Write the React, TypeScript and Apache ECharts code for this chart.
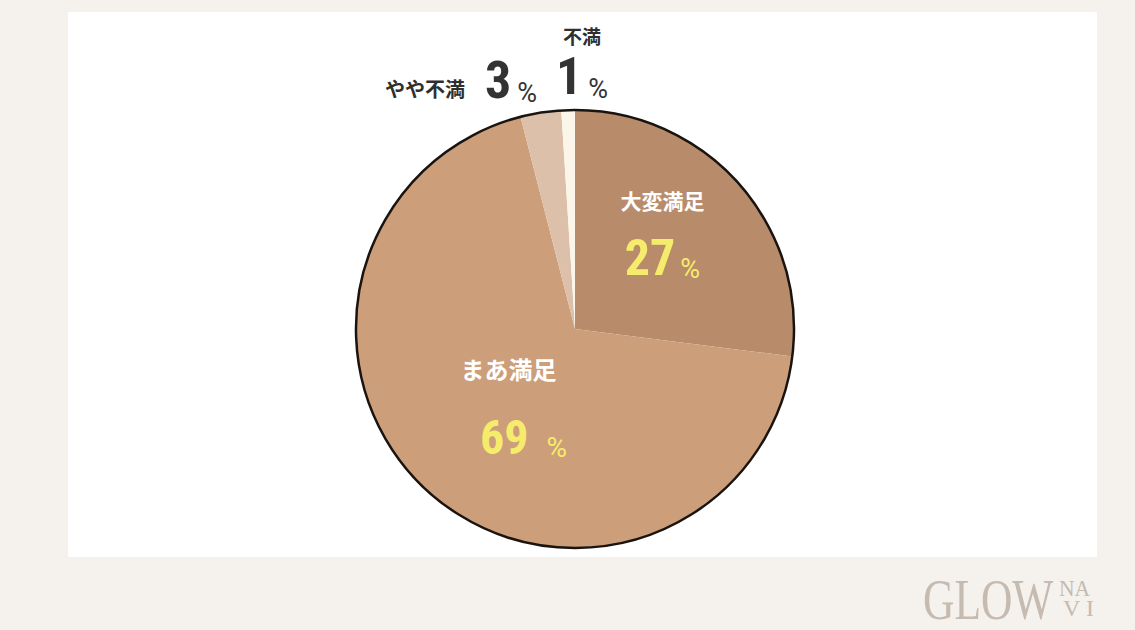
import React, { useEffect, useRef } from "react";
import * as echarts from "echarts";

const categories = ["大変満足", "まあ満足", "やや不満", "不満"];
const values = [27, 69, 3, 1];
const sliceColors = ["#b88c6b", "#cc9e7a", "#dcc0a9", "#fcf5e9"];

const JP = '"Noto Sans CJK JP", "Noto Sans", sans-serif';
const NUM = '"Roboto Condensed", "Liberation Sans Narrow", "DejaVu Sans Condensed", Roboto, sans-serif';
const PCT = 'Roboto, "Noto Sans", sans-serif';

export default function App() {
  const ref = useRef<HTMLDivElement>(null);
  useEffect(() => {
    document.body.style.margin = "0";
    const chart = echarts.init(ref.current!, undefined, { renderer: "svg" });
    const yellow = "#f6ec6c";
    const insideRich = {
      name: { color: "#ffffff", fontFamily: JP, fontWeight: "bold", fontSize: 21, lineHeight: 66 },
      name2: { color: "#ffffff", fontFamily: JP, fontWeight: "bold", fontSize: 24, lineHeight: 87 },
      num: { color: yellow, fontFamily: NUM, fontWeight: "bold", fontSize: 50, lineHeight: 50, verticalAlign: "bottom" },
      num2: { color: yellow, fontFamily: NUM, fontWeight: "bold", fontSize: 48, lineHeight: 50, verticalAlign: "bottom", padding: [0, 0, 0, 30] },
      pct: { color: yellow, fontFamily: PCT, fontSize: 27, lineHeight: 30, verticalAlign: "bottom", padding: [0, 0, 0, 5] },
      pct2: { color: yellow, fontFamily: PCT, fontSize: 28, lineHeight: 30, verticalAlign: "bottom", padding: [0, 0, 0, 18] },
    };
    const outsideRich = {
      name: { color: "#2f2f2f", fontFamily: JP, fontWeight: "bold", fontSize: 20, lineHeight: 40, verticalAlign: "bottom", padding: [0, 20, 8, 0] },
      top: { color: "#2f2f2f", fontFamily: JP, fontWeight: "bold", fontSize: 19, lineHeight: 22, padding: [0, 0, 12, 0] },
      num: { color: "#333333", fontFamily: NUM, fontWeight: "bold", fontSize: 52, lineHeight: 50, verticalAlign: "bottom" },
      pct: { color: "#333333", fontFamily: PCT, fontSize: 27, lineHeight: 30, verticalAlign: "bottom", padding: [0, 0, 0, 6] },
    };
    const data = categories.map((name, i) => {
      const inside = i < 2;
      let formatter = "";
      if (i === 0) formatter = `{name|${name}}\n{num|${values[i]}}{pct|%}`;
      else if (i === 1) formatter = `{name2|${name}}\n{num2|${values[i]}}{pct2|%}`;
      else if (i === 2) formatter = `{name|${name}}{num|${values[i]}}{pct|%}`;
      else formatter = `{top|${name}}\n{num|${values[i]}}{pct|%}`;
      return {
        name,
        value: values[i],
        itemStyle: { color: sliceColors[i] },
        label: {
          show: true,
          position: inside ? "inside" : "outside",
          formatter,
          rich: inside ? insideRich : outsideRich,
          align: "center",
        },
        labelLine: { show: false },
      };
    });
    const logoColor = "#c6bbb0";
    chart.setOption({
      animation: false,
      backgroundColor: "#f5f1ec",
      graphic: [
        { type: "rect", z: -10, shape: { x: 68, y: 12, width: 1029, height: 545 }, style: { fill: "#ffffff" } },
        { type: "text", x: 923, y: 570, scaleX: 0.75, style: { text: "GLOW", font: '100 58px "Liberation Serif", serif', fill: logoColor } },
        { type: "text", x: 1059, y: 576, scaleX: 0.9, style: { text: "NA", font: '100 24px "Liberation Serif", serif', fill: logoColor } },
        { type: "text", x: 1063, y: 596, style: { text: "V I", font: '100 24px "Liberation Serif", serif', fill: logoColor } },
      ],
      series: [
        {
          type: "pie",
          center: [575, 329],
          radius: [0, 219],
          startAngle: 90,
          clockwise: true,
          avoidLabelOverlap: false,
          itemStyle: { borderWidth: 0 },
          emphasis: { disabled: true },
          data,
          labelLayout: (p: any) => {
            if (p.dataIndex === 0) return { dx: 3, dy: -30 };
            if (p.dataIndex === 1) return { dx: 8, dy: -20 };
            if (p.dataIndex === 2) return { x: 537, y: 81, align: "right", verticalAlign: "middle" };
            return { x: 582, y: 66, align: "center", verticalAlign: "middle" };
          },
        },
        {
          type: "pie",
          center: [575, 329],
          radius: [0, 219],
          silent: true,
          label: { show: false },
          labelLine: { show: false },
          itemStyle: { color: "rgba(0,0,0,0)", borderColor: "#1a1410", borderWidth: 2.5 },
          data: [{ value: 1, name: "outline" }],
          z: 5,
        },
      ],
    });
    return () => chart.dispose();
  }, []);
  return <div ref={ref} style={{ position: "fixed", left: 0, top: 0, width: 1135, height: 630 }} />;
}
